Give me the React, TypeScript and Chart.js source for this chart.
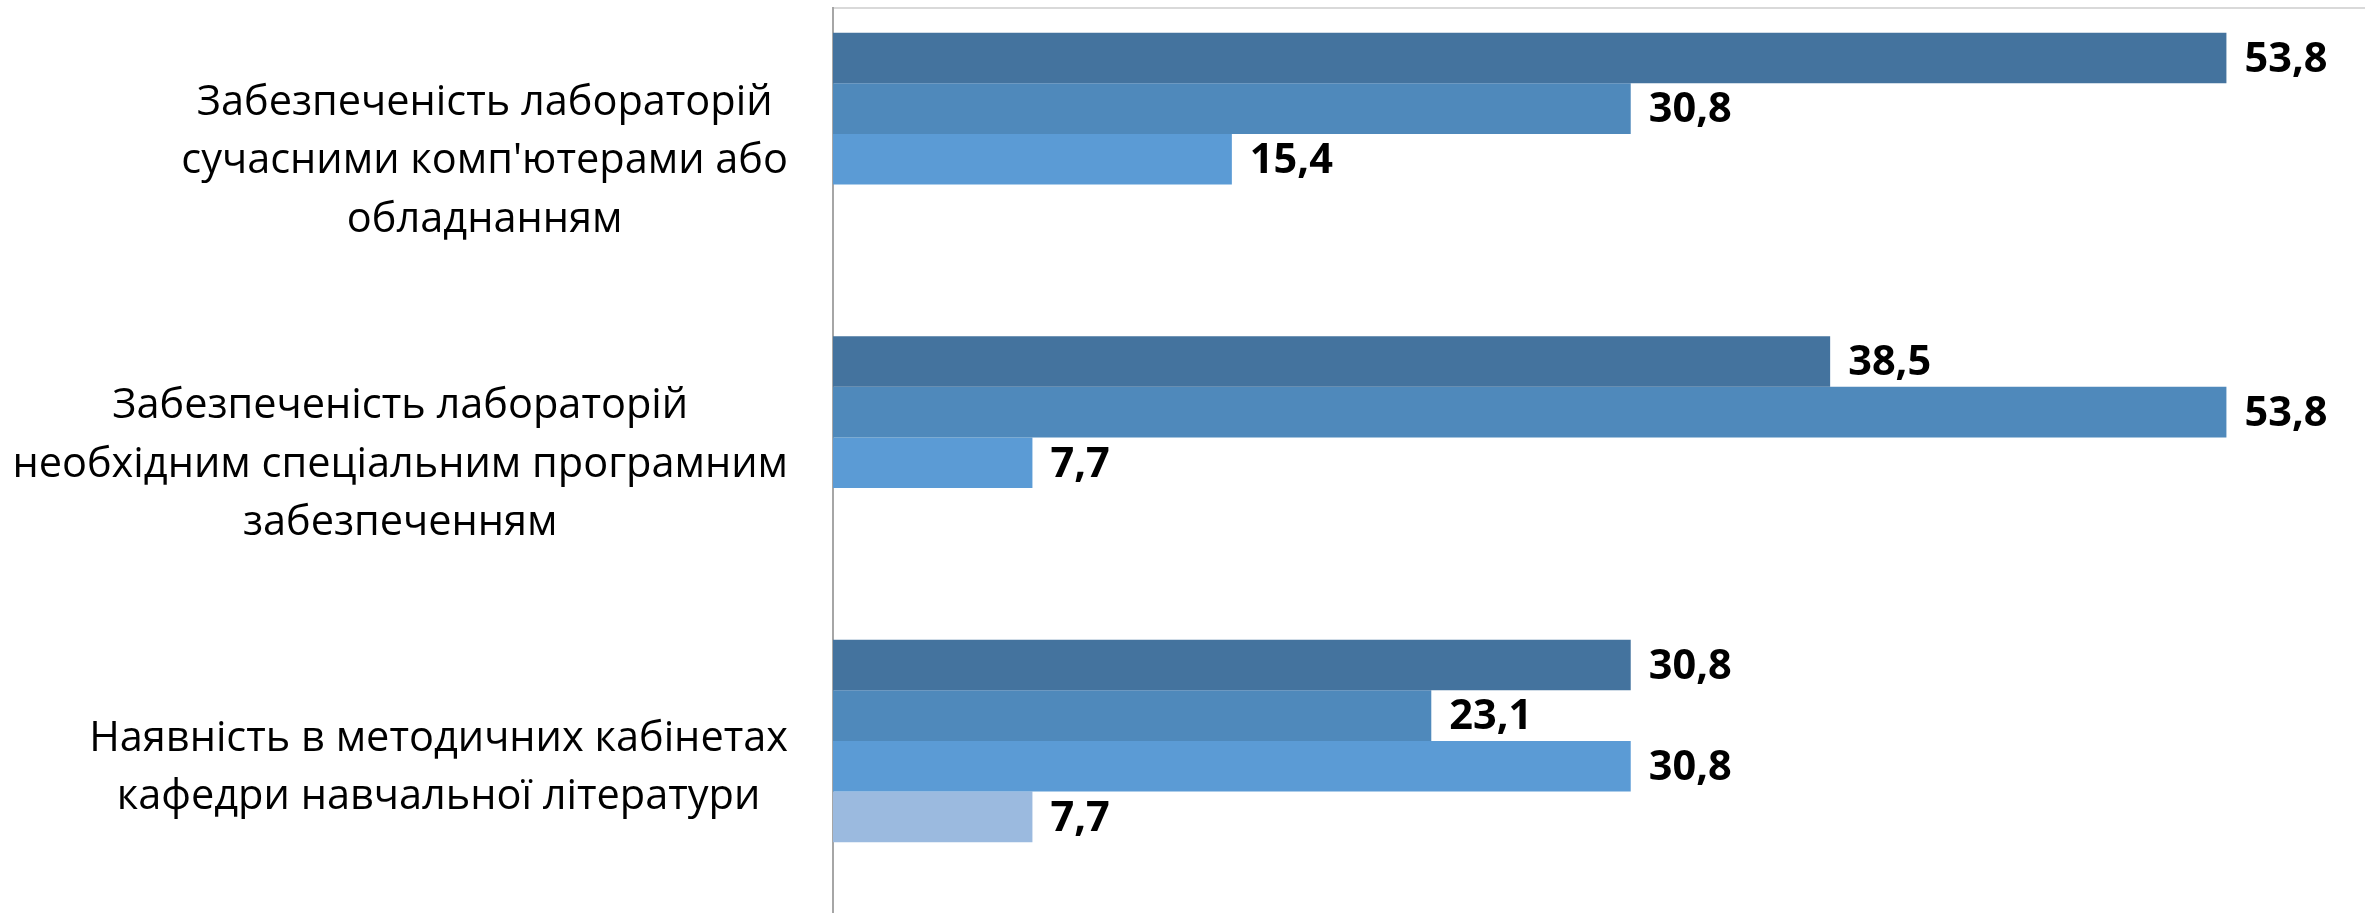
import React, { useEffect, useRef } from "react";
import { Chart, registerables } from "chart.js";

Chart.register(...registerables);

const categories: string[][] = [
  ["Забезпеченість лабораторій", "сучасними комп'ютерами або", "обладнанням"],
  ["Забезпеченість лабораторій", "необхідним спеціальним програмним", "забезпеченням"],
  ["Наявність в методичних кабінетах", "кафедри навчальної літератури"],
];

const series1: (number | null)[] = [53.8, 38.5, 30.8];
const series2: (number | null)[] = [30.8, 53.8, 23.1];
const series3: (number | null)[] = [15.4, 7.7, 30.8];
const series4: (number | null)[] = [null, null, 7.7];
const series5: (number | null)[] = [null, null, null];

const colors = ["#44739E", "#4F89BB", "#5B9BD5", "#9BBADF", "#C5D6EC"];

const CAT_FONT = "41.5px 'Open Sans', sans-serif";
const VAL_FONT = "bold 41.5px 'Open Sans', sans-serif";

const categoryLabelPlugin = {
  id: "categoryLabels",
  afterDraw(chart: any) {
    const scale = chart.scales.y;
    const ctx = chart.ctx;
    ctx.save();
    ctx.font = CAT_FONT;
    ctx.fillStyle = "#000000";
    ctx.textAlign = "center";
    ctx.textBaseline = "middle";
    const lineH = 58.5;
    categories.forEach((lines, i) => {
      const yc = scale.getPixelForTick(i) + 2;
      const widest = Math.max(...lines.map((l) => ctx.measureText(l).width));
      const right = scale.right - 45;
      const cx = right - widest / 2;
      const y0 = yc - ((lines.length - 1) * lineH) / 2;
      lines.forEach((l, k) => ctx.fillText(l, cx, y0 + k * lineH));
    });
    ctx.restore();
  },
};

const valueLabelPlugin = {
  id: "valueLabels",
  afterDatasetsDraw(chart: any) {
    const ctx = chart.ctx;
    ctx.save();
    ctx.font = VAL_FONT;
    ctx.fillStyle = "#000000";
    ctx.textAlign = "left";
    ctx.textBaseline = "middle";
    chart.data.datasets.forEach((ds: any, di: number) => {
      const meta = chart.getDatasetMeta(di);
      meta.data.forEach((el: any, i: number) => {
        const v = ds.data[i];
        if (v === null || v === undefined) return;
        const txt = v.toFixed(1).replace(".", ",");
        ctx.fillText(txt, el.x + 18, el.y + 2);
      });
    });
    ctx.restore();
  },
};

export default function App() {
  const ref = useRef<HTMLCanvasElement>(null);
  useEffect(() => {
    if (!ref.current) return;
    const mk = (label: string, data: (number | null)[], c: string) => ({
      label,
      data,
      backgroundColor: c,
      borderWidth: 0,
      categoryPercentage: 0.834,
      barPercentage: 1.0,
    });
    const chart = new Chart(ref.current, {
      type: "bar",
      data: {
        labels: categories.map((c) => c.join(" ")),
        datasets: [
          mk("1", series1, colors[0]),
          mk("2", series2, colors[1]),
          mk("3", series3, colors[2]),
          mk("4", series4, colors[3]),
          mk("5", series5, colors[4]),
        ],
      },
      options: {
        indexAxis: "y",
        animation: false,
        responsive: false,
        maintainAspectRatio: false,
        layout: { padding: { top: 7.5, left: 0, right: 0, bottom: 0 } },
        plugins: {
          legend: { display: false },
          tooltip: { enabled: false },
        },
        scales: {
          x: {
            position: "top",
            min: 0,
            max: 60,
            ticks: { display: false },
            grid: { display: false },
            border: { display: true, color: "#D9D9D9", width: 2 },
            afterFit: (s: any) => {
              s.height = 0;
            },
          },
          y: {
            ticks: { display: false },
            grid: { display: false },
            border: { display: true, color: "#A6A6A6", width: 2 },
            afterFit: (s: any) => {
              s.width = 833;
            },
          },
        },
      },
      plugins: [categoryLabelPlugin, valueLabelPlugin],
    });
    return () => chart.destroy();
  }, []);
  return (
    <div
      style={{
        position: "fixed",
        left: 0,
        top: 0,
        width: 2365,
        height: 913,
        overflow: "hidden",
        background: "#ffffff",
      }}
    >
      <canvas ref={ref} width={2387} height={918} style={{ display: "block" }} />
    </div>
  );
}
